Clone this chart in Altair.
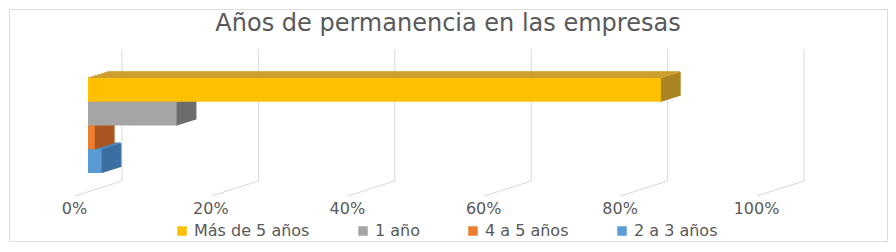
import altair as alt
import pandas as pd

# ---------------- data ----------------
categories = ["Más de 5 años", "1 año", "4 a 5 años", "2 a 3 años"]
values = [0.84, 0.13, 0.01, 0.02]
front_colors = ["#FFC000", "#A5A5A5", "#ED7D31", "#5B9BD5"]
top_colors = ["#C9981F", "#8C8C8C", "#C96A29", "#4A85BC"]
side_colors = ["#A8821E", "#6E6E6E", "#A9551F", "#3C70A2"]
tick_values = [0, 0.2, 0.4, 0.6, 0.8, 1.0]
title_text = "Años de permanencia  en las empresas"

# ---------------- layout (pixels, inside the framed view) ----------------
W, H = 878, 232
X_RANGE = [79, 761]          # bar front plane: 0% .. 100%
Y_RANGE = [69, 164]          # top of first bar .. bottom of last bar
N = len(categories)
STEP = (Y_RANGE[1] - Y_RANGE[0]) / N
PX = X_RANGE[1] - X_RANGE[0]
DEPTH_X, DEPTH_Y = 19, 6     # bar depth in pixels
DX = DEPTH_X / PX
DY = DEPTH_Y / STEP
BACK_DX = 34 / PX            # back wall relative to bar front plane
FLOOR_DX = -13 / PX          # floor front edge relative to bar front plane


def yu(px):
    return (px - Y_RANGE[0]) / STEP


GRID_TOP, GRID_BOT, FLOOR_FRONT = yu(40), yu(172), yu(187)

FONT = "DejaVu Sans"
TXT = "#595959"
GRID = "#D9D9D9"

xscale = alt.Scale(domain=[0, 1], range=X_RANGE)
yscale = alt.Scale(domain=[0, N], range=Y_RANGE)
x_axis = alt.Axis(values=tick_values, format="%", title=None, domain=False,
                  ticks=False, grid=False, labelOffset=-14, labelPadding=2,
                  offset=-43, labelFont=FONT, labelFontSize=16,
                  labelColor=TXT, labelFlush=False, labelOverlap=False)

# ---------------- decorations: back wall grid + floor ----------------
grid_df = pd.DataFrame({
    "gx": [t + BACK_DX for t in tick_values],
    "fx": [t + FLOOR_DX for t in tick_values],
    "gy0": GRID_TOP, "gy1": GRID_BOT, "fy": FLOOR_FRONT,
})
grid = alt.Chart(grid_df).mark_rule(color=GRID, strokeWidth=1).encode(
    x=alt.X("gx:Q", scale=xscale, axis=x_axis),
    y=alt.Y("gy0:Q", scale=yscale, axis=None),
    y2="gy1:Q",
)
floor = alt.Chart(grid_df).mark_rule(color=GRID, strokeWidth=1).encode(
    x=alt.X("fx:Q", scale=xscale, axis=x_axis),
    x2="gx:Q",
    y=alt.Y("fy:Q", scale=yscale, axis=None),
    y2="gy1:Q",
)

layers = [grid, floor]

color_scale = alt.Scale(domain=categories, range=front_colors)
legend = alt.Legend(orient="none", legendX=165, legendY=214,
                    direction="horizontal", title=None, symbolType="square",
                    symbolSize=90, symbolStrokeWidth=0, labelFont=FONT,
                    labelFontSize=16, labelColor=TXT, columnPadding=45,
                    labelOffset=4)

# bars drawn from the lowest to the top one so upper bars hide lower top faces
for i in reversed(range(N)):
    c, v = categories[i], values[i]

    # right side face: thin vertical slices stepping back in depth
    side_df = pd.DataFrame({
        "x": [v + k / DEPTH_X * DX for k in range(DEPTH_X + 1)],
        "yt": [i - k / DEPTH_X * DY for k in range(DEPTH_X + 1)],
        "yb": [i + 1 - k / DEPTH_X * DY for k in range(DEPTH_X + 1)],
    })
    # top face: thin horizontal slices stepping back in depth
    top_df = pd.DataFrame({
        "x0": [k / DEPTH_Y * DX for k in range(DEPTH_Y + 1)],
        "x1": [v + k / DEPTH_Y * DX for k in range(DEPTH_Y + 1)],
        "y": [i - k / DEPTH_Y * DY for k in range(DEPTH_Y + 1)],
    })
    front_df = pd.DataFrame({"cat": [c], "x0": [0.0], "x1": [v],
                             "y0": [i], "y1": [i + 1]})

    side = alt.Chart(side_df).mark_rule(color=side_colors[i], strokeWidth=1.6).encode(
        x=alt.X("x:Q", scale=xscale, axis=x_axis),
        y=alt.Y("yt:Q", scale=yscale, axis=None),
        y2="yb:Q",
    )
    top = alt.Chart(top_df).mark_rule(color=top_colors[i], strokeWidth=1.6).encode(
        x=alt.X("x0:Q", scale=xscale, axis=x_axis),
        x2="x1:Q",
        y=alt.Y("y:Q", scale=yscale, axis=None),
    )
    front = alt.Chart(front_df).mark_rect().encode(
        x=alt.X("x0:Q", scale=xscale, axis=x_axis),
        x2="x1:Q",
        y=alt.Y("y0:Q", scale=yscale, axis=None),
        y2="y1:Q",
        color=alt.Color("cat:N", scale=color_scale, sort=categories, legend=legend),
    )
    layers += [side, top, front]

chart = alt.layer(*layers).properties(
    width=W, height=H, padding=1,
    autosize=alt.AutoSizeParams(type="none"),
    title=alt.TitleParams(text=title_text, anchor="middle", frame="group",
                          fontSize=24, font=FONT, fontWeight="normal",
                          color=TXT, baseline="alphabetic", offset=-28, dy=18),
).configure_view(stroke=GRID, strokeWidth=1).configure(background="white")

chart.save("out.html", embed_options={"renderer": "svg", "actions": False})
